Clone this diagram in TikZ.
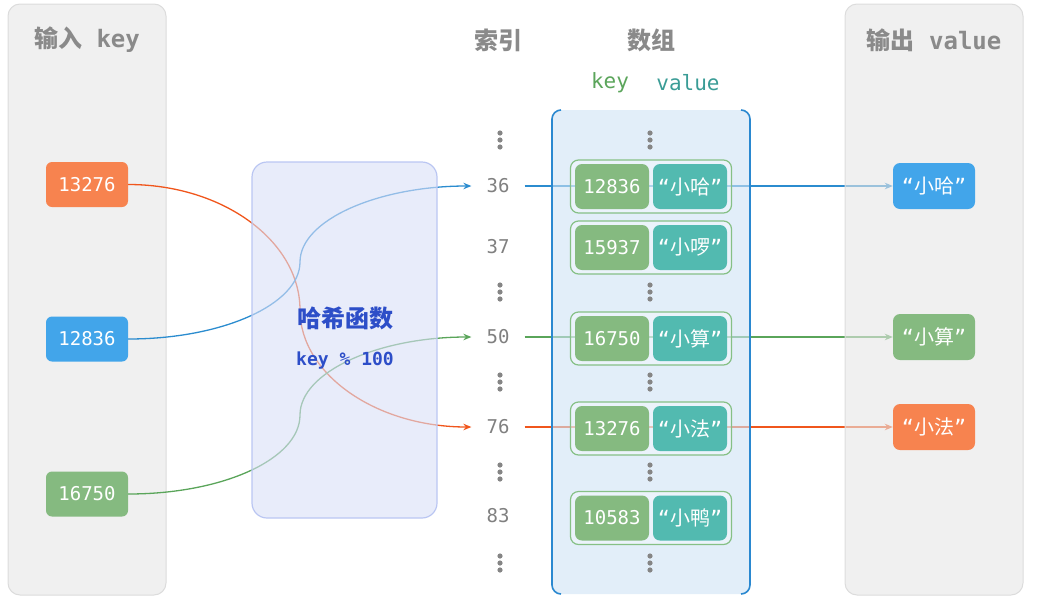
\documentclass[tikz,border=0pt]{standalone}
\usepackage{fontspec}
\usetikzlibrary{arrows.meta}
\newfontfamily\cjk{Noto Sans CJK SC}
\newfontfamily\mono{DejaVu Sans Mono}
\newcommand\setfs[1]{\fontsize{#1}{#1}\selectfont}

\definecolor{panelgray}{HTML}{F0F0F0}
\definecolor{panelveil}{HTML}{E6E6E6}
\definecolor{panelline}{HTML}{DCDCDC}
\definecolor{titlegray}{HTML}{8A8A8A}
\definecolor{idxgray}{HTML}{808080}
\definecolor{dotgray}{HTML}{858585}
\definecolor{nodeorange}{HTML}{F7834F}
\definecolor{nodeblue}{HTML}{42A5EA}
\definecolor{nodegreen}{HTML}{85BA80}
\definecolor{nodeteal}{HTML}{52BAB0}
\definecolor{lineorange}{HTML}{F0561C}
\definecolor{lineblue}{HTML}{2B8CCF}
\definecolor{linegreen}{HTML}{5AA55A}
\definecolor{hashfill}{HTML}{D9DFF7}
\definecolor{hashline}{HTML}{BAC6F2}
\definecolor{hashtext}{HTML}{2D4EC8}
\definecolor{arrfill}{HTML}{CFE3F5}
\definecolor{arrline}{HTML}{2A88D0}
\definecolor{rowline}{HTML}{86C086}
\definecolor{keytext}{HTML}{5BA55B}
\definecolor{valtext}{HTML}{3A9C96}

\pgfdeclarelayer{panels}
\pgfdeclarelayer{conn}
\pgfdeclarelayer{boxes}
\pgfsetlayers{panels,conn,boxes,main}

\tikzset{
  panel/.style={fill=panelgray, draw=panelline, line width=1pt, rounded corners=12pt},
  title/.style={text=titlegray, font=\setfs{24}, inner sep=0pt},
  keynode/.style={rounded corners=6pt, minimum width=82pt, minimum height=45pt,
    inner sep=0pt, text=white, font=\mono\setfs{19}},
  outnode/.style={rounded corners=7pt, minimum width=82pt, minimum height=46pt,
    inner sep=0pt, text=white, font=\setfs{20}},
  idx/.style={text=idxgray, font=\mono\setfs{19}, inner xsep=15pt, inner ysep=0pt},
  rowbox/.style={draw=rowline, line width=1.2pt, fill=white, fill opacity=0.3,
    rounded corners=8pt, minimum width=161pt, minimum height=53pt, inner sep=0pt},
  kbox/.style={fill=nodegreen, rounded corners=7pt, minimum width=74pt,
    minimum height=45pt, inner sep=0pt, text=white, font=\mono\setfs{19}},
  vbox/.style={fill=nodeteal, rounded corners=7pt, minimum width=74pt,
    minimum height=45pt, inner sep=0pt, text=white, font=\setfs{20}},
  conn/.style={line width=1.3pt, -{Stealth[length=8pt,width=6.5pt]}},
}

\newcommand\qv[1]{{\mono “}{\cjk #1}{\mono ”}}

\begin{document}
\begin{tikzpicture}[x=1pt,y=-1pt]
\useasboundingbox (0,0) rectangle (1058,603);

% input column
\begin{pgfonlayer}{panels}
  \draw[panel] (8,4) rectangle (166,595);
\end{pgfonlayer}
\node[title] (tin) at (87,40) {\cjk\bfseries 输入\mono\bfseries\ key};
\node[keynode, fill=nodeorange] (k1) at (87,184.5) {13276};
\node[keynode, fill=nodeblue]   (k2) at (87,339) {12836};
\node[keynode, fill=nodegreen]  (k3) at (87,494) {16750};

% hash function box (translucent, the curves show through it)
\begin{pgfonlayer}{boxes}
  \node[fill=hashfill, fill opacity=0.6, draw=hashline, line width=1.2pt,
        rounded corners=15pt, minimum width=185pt, minimum height=356pt]
        (hash) at (344.5,340) {};
\end{pgfonlayer}
\node[text=hashtext, font=\cjk\bfseries\setfs{24}, inner sep=0pt] (hf) at (345,318) {哈希函数};
\node[text=hashtext, font=\mono\bfseries\setfs{18}, inner sep=0pt] (hk) at (345,361) {key \% 100};

% index column
\node[title] (tidx) at (498,40) {\cjk\bfseries 索引};
\node[idx] (i36) at (498,186) {36};
\node[idx] (i37) at (498,247) {37};
\node[idx] (i50) at (498,337) {50};
\node[idx] (i76) at (498,427) {76};
\node[idx] (i83) at (498,516) {83};

% array column
\node[title] (tarr) at (651,40) {\cjk\bfseries 数组};
\node[text=keytext, font=\mono\setfs{21}, inner sep=0pt] (hkey) at (610,83) {key};
\node[text=valtext, font=\mono\setfs{21}, inner sep=0pt] (hval) at (688,83) {value};
\begin{pgfonlayer}{boxes}
  \fill[arrfill, fill opacity=0.6, rounded corners=9pt] (552,110) rectangle (750,594);
  \draw[arrline, line width=1.6pt, rounded corners=9pt] (561,110) -- (552,110) -- (552,594) -- (561,594);
  \draw[arrline, line width=1.6pt, rounded corners=9pt] (741,110) -- (750,110) -- (750,594) -- (741,594);
  \node[rowbox] (r36) at (651,186.5) {};
  \node[rowbox] (r37) at (651,247.5) {};
  \node[rowbox] (r50) at (651,338.5) {};
  \node[rowbox] (r76) at (651,428.5) {};
  \node[rowbox] (r83) at (651,518) {};
\end{pgfonlayer}
\node[kbox] (k36) at (612,186.5) {12836};
\node[vbox] (v36) at (690,186.5) {\qv{小哈}};
\node[kbox] (k37) at (612,247.5) {15937};
\node[vbox] (v37) at (690,247.5) {\qv{小啰}};
\node[kbox] (k50) at (612,338.5) {16750};
\node[vbox] (v50) at (690,338.5) {\qv{小算}};
\node[kbox] (k76) at (612,428.5) {13276};
\node[vbox] (v76) at (690,428.5) {\qv{小法}};
\node[kbox] (k83) at (612,518) {10583};
\node[vbox] (v83) at (690,518) {\qv{小鸭}};

% vertical ellipses
\foreach \x in {500,650}
  \foreach \y in {140,292,382,472,563}
    \foreach \d in {-7,0,7}
      \fill[dotgray] (\x,\y+\d) circle (2.6pt);

% output column
\begin{pgfonlayer}{boxes}
  \draw[panel, fill=panelveil, fill opacity=0.6] (845,4) rectangle (1023,595);
\end{pgfonlayer}
\node[title] (tout) at (934,40) {\cjk\bfseries 输出\mono\bfseries\ value};
\node[outnode, fill=nodeblue]   (o1) at (934,186) {\qv{小哈}};
\node[outnode, fill=nodegreen]  (o2) at (934,337) {\qv{小算}};
\node[outnode, fill=nodeorange] (o3) at (934,427) {\qv{小法}};

% connectors
\begin{pgfonlayer}{conn}
  \draw[conn, lineorange] (k1.east) .. controls (223,184.5) and (300,241) .. (300,310)
        .. controls (300,374) and (376,427) .. (i76.west);
  \draw[conn, lineblue] (k2.east) .. controls (223,339) and (300,304) .. (300,262)
        .. controls (300,220) and (378,186) .. (i36.west);
  \draw[conn, linegreen] (k3.east) .. controls (223,494) and (300,459) .. (300,415)
        .. controls (300,372) and (378,337) .. (i50.west);
  \draw[conn, lineblue]   (i36.east) -- (o1.west);
  \draw[conn, linegreen]  (i50.east) -- (o2.west);
  \draw[conn, lineorange] (i76.east) -- (o3.west);
\end{pgfonlayer}
\end{tikzpicture}
\end{document}
